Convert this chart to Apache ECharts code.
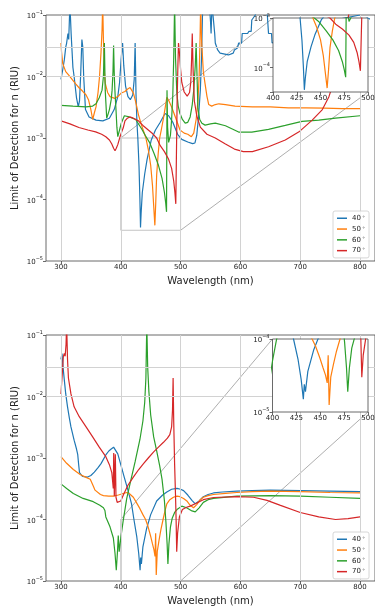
<!DOCTYPE html>
<html><head><meta charset="utf-8">
<script src="https://cdn.jsdelivr.net/npm/echarts@6/dist/echarts.min.js"></script>
<style>html,body{margin:0;padding:0;background:#fff}#c{width:375px;height:607px}</style>
</head><body><div id="c"></div>
<script>
// ---------- data (wavelength nm, limit of detection RIU) ----------
const seriesNames = ['40', '50', '60', '70'];
const xTicks = [300, 400, 500, 600, 700, 800];
const insetXTicks = [400, 425, 450, 475, 500];

const top40 = [[300,9.0e-3],[303,0.013],[305.6,0.0186],[308,0.03],[309.5,0.035],[311.7,0.05],[313,0.04],[315,0.15],[317,0.05],[320,0.014],[322,0.01],[326,0.0045],[329,0.0032],[331,0.004],[333,0.011],[335,0.04],[336.5,0.03],[338,0.01],[341,0.0029],[347,0.0022],[358.6,0.00195],[370,0.0019],[381,0.0021],[389,0.0029],[395,0.0047],[398,0.008],[400.5,0.0186],[403,0.035],[405,0.015],[408,0.007],[412,0.0047],[416,0.0042],[420,0.005],[422.5,0.009],[424,0.035],[425.5,0.005],[427,0.0018],[428.5,0.001],[430.5,0.00035],[432,0.0001],[433,3.5e-5],[434,6e-5],[436,1.3e-4],[440,2.6e-4],[444,4.5e-4],[451,9.3e-4],[458,1.35e-3],[466,1.8e-3],[474,2.5e-3],[480,2.3e-3],[487,1.8e-3],[495,1.15e-3],[502,9.5e-4],[512,8.6e-4],[520,8.1e-4],[524,8.3e-4],[527,1.1e-3],[530,2.2e-3],[533,6e-3],[535,0.02],[537,0.15],[548,0.15],[550,0.08],[551,0.05],[552.5,0.15],[555,0.15],[557,0.05],[558,0.035],[562,0.027],[566,0.024],[568,0.0224],[580,0.0224],[582,0.024],[588,0.024],[590,0.027],[595,0.029],[597,0.035],[602,0.035],[603,0.05],[612,0.05],[614,0.054],[618,0.054],[619,0.083],[625,0.1],[628,0.15],[643,0.15],[645,0.1],[647,0.05],[652,0.05],[653,0.035],[670,0.04],[700,0.06],[750,0.08],[800,0.1]];
const top50 = [[300,0.035],[301,0.025],[303,0.0162],[308,0.012],[313,0.0105],[319.6,0.0087],[325,0.0075],[330.6,0.0065],[336,0.0058],[342,0.005],[346,0.0042],[350,0.0029],[353,0.002],[356,0.0026],[358.6,0.0032],[362,0.0055],[364.5,0.01],[367,0.025],[368.7,0.0575],[369.8,0.15],[371,0.04],[372.5,0.012],[374,0.0078],[378,0.0055],[382,0.0047],[390,0.0044],[396,0.0048],[401,0.0054],[407,0.0057],[411,0.0062],[415.6,0.0066],[418,0.0063],[421,0.0054],[424,0.0042],[426.8,0.0032],[429.5,0.0024],[434,0.0017],[438,0.0013],[442,0.001],[446,6.5e-4],[450,3.6e-4],[453,1.7e-4],[455,8e-5],[457,3.8e-5],[458.5,9e-5],[460,2.5e-4],[462.5,5.5e-4],[465,1e-3],[468,1.4e-3],[471,2e-3],[474,3e-3],[477,4.6e-3],[480,4.1e-3],[485,3.2e-3],[492,2.1e-3],[499,1.35e-3],[506,1.2e-3],[512,1.15e-3],[518,1.05e-3],[522,1.2e-3],[526,2e-3],[529,4e-3],[531,0.01],[532.5,0.04],[533.5,0.15],[535,0.04],[538,0.012],[541,0.0075],[544,0.0048],[547,0.0035],[552,0.0033],[558,0.0035],[564,0.0036],[575,0.0035],[591,0.0033],[620,0.0032],[650,0.0032],[680,0.0031],[710,0.0031],[740,0.00305],[770,0.003],[800,0.003]];
const top60 = [[300,0.0034],[320,0.0033],[342,0.0032],[353,0.0033],[358.6,0.0036],[364,0.0045],[368.7,0.006],[371,0.01],[372.6,0.035],[374,0.006],[376.5,0.0021],[378.5,0.0024],[381,0.0029],[384,0.0042],[385.5,0.006],[387,0.012],[388,0.032],[389.2,0.01],[390.4,0.0054],[392,0.0029],[393.5,0.0015],[395,0.00105],[397.5,0.0013],[400.5,0.0017],[406,0.0023],[414,0.0022],[425,0.002],[435,0.0014],[441,0.0011],[448,8.5e-4],[456,5.5e-4],[463,3.6e-4],[469,2.2e-4],[473,1.3e-4],[475,9e-5],[476.5,6.3e-5],[477.3,6e-3],[478.3,1.5e-3],[480,8.5e-4],[483,1.1e-3],[485,2e-3],[487,5e-3],[488.5,0.02],[490,0.15],[491.5,0.02],[493.7,5.4e-3],[496,3.3e-3],[499,2.5e-3],[503,2e-3],[507.7,1.75e-3],[512,1.8e-3],[516,2.2e-3],[519.5,3.5e-3],[522,6e-3],[524.5,0.015],[526,0.035],[527.5,0.01],[529,3e-3],[532,2e-3],[535.6,1.74e-3],[541,1.62e-3],[550,1.7e-3],[558,1.74e-3],[575,1.58e-3],[597,1.25e-3],[619,1.25e-3],[647,1.38e-3],[675,1.6e-3],[703,1.86e-3],[731,1.95e-3],[759,2.1e-3],[800,2.3e-3]];
const top70 = [[300,0.0019],[315,0.0017],[330,0.00148],[345,0.00135],[358,0.00126],[368,0.00115],[375,0.00105],[381,0.00093],[385,0.0008],[388,0.00068],[390.4,0.00062],[392.5,0.00068],[395,0.00078],[398.8,0.00105],[402,0.0013],[404,0.00145],[407,0.0019],[411,0.0021],[415,0.0022],[421,0.0021],[429.5,0.0019],[437,0.0016],[446,0.00135],[453,0.00118],[460,0.001],[466,7.5e-4],[473,6e-4],[480,4.5e-4],[485,3.2e-4],[488.5,2e-4],[490.5,1.3e-4],[492,8.5e-5],[493,5e-4],[494.2,4e-3],[495.5,0.015],[496.5,0.035],[498,0.025],[500,0.013],[502,8e-3],[506,5.6e-3],[511,4.8e-3],[515,5.5e-3],[517,8e-3],[518.5,0.02],[519.5,0.05],[521,0.012],[523,4e-3],[527,2.3e-3],[533,1.5e-3],[544,1.15e-3],[558,1e-3],[575,8e-4],[590,6.6e-4],[605,6e-4],[620,6e-4],[647,7.2e-4],[675,9.3e-4],[698,1.26e-3],[720,1.95e-3],[737,2.9e-3],[748,4.7e-3],[759,0.01],[770,0.021],[776,0.045],[782,0.12],[790,0.25],[800,0.4]];

const bot40 = [[300,0.04],[301.7,0.05],[303.5,0.03],[305.6,0.0186],[308,0.011],[311,0.0068],[314,0.0045],[316.7,0.0032],[322,0.00195],[326,0.0014],[328,0.00115],[329.5,0.0008],[331,0.00058],[336,0.0005],[344.6,0.00049],[350,0.00052],[355.8,0.00059],[362,0.0007],[367,0.00081],[375,0.00112],[380,0.0013],[384,0.0014],[388,0.0015],[391,0.00142],[395,0.00117],[400.5,0.00075],[406,0.00048],[412,0.0003],[418,0.00018],[422,1e-4],[426.8,5.2e-5],[430,2.8e-5],[432.3,1.5e-5],[433.3,2.4e-5],[434.5,1.9e-5],[437,3.6e-5],[443,7e-5],[450,1.2e-4],[460,2e-4],[470,2.5e-4],[477,2.8e-4],[485,3.1e-4],[494,3.2e-4],[500,3.1e-4],[505,2.95e-4],[512,2.5e-4],[519,2.05e-4],[524.5,1.8e-4],[531,2e-4],[538,2.35e-4],[546,2.55e-4],[555,2.7e-4],[570,2.8e-4],[594,2.9e-4],[620,2.95e-4],[650,3e-4],[700,2.95e-4],[750,2.9e-4],[800,2.85e-4]];
const bot50 = [[300,1.05e-3],[309.5,8.2e-4],[320.7,6.5e-4],[332,5.4e-4],[343,4.8e-4],[349,4.5e-4],[352,4.2e-4],[354,3.5e-4],[357,3e-4],[360,2.8e-4],[366,2.55e-4],[371,2.45e-4],[380,2.4e-4],[387.6,2.4e-4],[396,2.5e-4],[404,2.65e-4],[410,2.75e-4],[415,2.6e-4],[421,2.3e-4],[426,1.9e-4],[432,1.5e-4],[437,1.2e-4],[441.5,1e-4],[445,8e-5],[449.6,5.5e-5],[453,4e-5],[455.5,3.2e-5],[457.3,2.5e-5],[458.3,6e-5],[459.3,1.25e-5],[461,3e-5],[463.8,4.5e-5],[467,6.8e-5],[470.7,1e-4],[474,1.4e-4],[477,1.8e-4],[482,2.1e-4],[488,2.3e-4],[494,2.4e-4],[499,2.35e-4],[505,2.2e-4],[510.5,2e-4],[516,1.7e-4],[521.6,1.55e-4],[527,1.75e-4],[532,2.05e-4],[538,2.3e-4],[546,2.45e-4],[555,2.55e-4],[575,2.65e-4],[594,2.75e-4],[620,2.85e-4],[650,2.9e-4],[700,2.85e-4],[750,2.75e-4],[800,2.7e-4]];
const bot60 = [[300,3.8e-4],[309.5,3.2e-4],[320.7,2.65e-4],[337,2.2e-4],[354,1.95e-4],[365,1.7e-4],[371,1.55e-4],[373.5,1.4e-4],[375,1.1e-4],[382,7.6e-5],[387.6,5e-5],[390.4,2.8e-5],[392.5,1.5e-5],[394.5,3e-5],[395.8,5.5e-5],[397.4,3e-5],[400,5e-5],[404,9.5e-5],[410,2.2e-4],[416,4e-4],[424,8.7e-4],[432,2e-3],[437,4e-3],[440,8e-3],[442,0.02],[443.5,0.15],[445,0.03],[447,0.012],[450,5e-3],[455,2.2e-3],[460,1.3e-3],[465,7.5e-4],[469,4.5e-4],[473,2e-4],[475.5,9e-5],[477.5,4e-5],[478.8,1.9e-5],[480.5,4e-5],[483,7.5e-5],[486,1.05e-4],[490,1.3e-4],[494,1.45e-4],[502,1.65e-4],[510,1.55e-4],[519,1.38e-4],[524.5,1.33e-4],[531,1.55e-4],[538,1.9e-4],[546,2.1e-4],[555,2.2e-4],[594,2.4e-4],[650,2.45e-4],[700,2.4e-4],[750,2.3e-4],[800,2.2e-4]];
const bot70 = [[300,0.011],[302,0.022],[304,0.045],[305.6,0.05],[307,0.045],[308.5,0.07],[309.5,0.15],[310.3,0.15],[311,0.04],[312.5,0.02],[316.7,0.011],[322,0.0068],[330.6,0.0047],[342,0.0032],[353,0.0022],[364,0.0015],[375,0.00105],[381,7.8e-4],[385,5.8e-4],[387.5,3.2e-4],[388.2,1.2e-3],[389.2,2.4e-4],[390.9,1.15e-3],[392,2.3e-4],[394,1.9e-4],[396,1.8e-4],[400,2e-4],[405,2.6e-4],[412,3.6e-4],[421,4.9e-4],[430,6.5e-4],[438,8.1e-4],[446,1e-3],[455,1.26e-3],[463,1.5e-3],[471.4,1.8e-3],[478,2.1e-3],[482,2.4e-3],[485,3.2e-3],[486.5,6e-3],[487.5,0.02],[488.5,4e-3],[490,8e-4],[491.5,2.5e-4],[492.5,1e-4],[493.5,3e-5],[495,6e-5],[498,1.1e-4],[503,1.45e-4],[510,1.58e-4],[516,1.65e-4],[527,1.85e-4],[538,2.1e-4],[555,2.28e-4],[594,2.35e-4],[622,2.3e-4],[644.5,2.05e-4],[667,1.7e-4],[700,1.3e-4],[731,1.1e-4],[759,1e-4],[780,1.03e-4],[800,1.1e-4]];

// ---------- styling ----------
const FF = 'DejaVu Sans';
const COLORS = ['#1f77b4', '#ff7f0e', '#2ca02c', '#d62728'];
const GRIDC = '#d2d2d2';
const AX = '#444';
const TXT = '#222';

const chart = echarts.init(document.getElementById('c'), null, {renderer: 'canvas'});

function expLabel(v) {
  const e = Math.log10(v);
  const r = Math.round(e);
  if (Math.abs(e - r) > 0.02) return '';
  return '{b|10}{s|\u2212' + (-r) + '}';
}
const rich = {
  b: {fontSize: 7, color: TXT, fontFamily: FF, lineHeight: 10, verticalAlign: 'bottom'},
  s: {fontSize: 5, color: TXT, fontFamily: FF, lineHeight: 10, verticalAlign: 'top'}
};
const p10 = e => Math.pow(10, e);

const grids = [
  {left: 46, top: 15, width: 329, height: 246, show: true, borderColor: AX, borderWidth: 0.8, backgroundColor: 'transparent', outerBoundsMode: 'none'},
  {left: 273, top: 18, width: 95, height: 74, show: true, borderColor: AX, borderWidth: 0.8, backgroundColor: '#fff', zlevel: 1, outerBoundsMode: 'none'},
  {left: 46, top: 335, width: 329, height: 246, show: true, borderColor: AX, borderWidth: 0.8, backgroundColor: 'transparent', outerBoundsMode: 'none'},
  {left: 272.5, top: 339, width: 95.5, height: 73, show: true, borderColor: AX, borderWidth: 0.8, backgroundColor: '#fff', zlevel: 1, outerBoundsMode: 'none'}
];

function mainX(gi) {
  return {type: 'value', gridIndex: gi, min: 275, max: 825,
    name: 'Wavelength (nm)', nameLocation: 'middle', nameGap: 15, nameMoveOverlap: false,
    nameTextStyle: {fontSize: 10, color: TXT, fontFamily: FF},
    axisLine: {show: false},
    axisTick: {show: true, customValues: xTicks, length: 3, lineStyle: {color: AX, width: 0.8}},
    axisLabel: {customValues: xTicks, fontSize: 7, color: TXT, margin: 3, fontFamily: FF},
    splitLine: {show: false}};
}
function insetX(gi) {
  return {type: 'value', gridIndex: gi, min: 400, max: 500, interval: 25, zlevel: 1,
    axisLine: {show: false},
    axisTick: {show: true, length: 3, lineStyle: {color: AX, width: 0.8}},
    axisLabel: {fontSize: 7, color: TXT, margin: 3, fontFamily: FF},
    splitLine: {show: false}};
}
function logY(gi, min, max, named, zl) {
  const o = {type: 'log', logBase: 10, gridIndex: gi, min: min, max: max, zlevel: zl,
    axisLine: {show: false},
    axisTick: {show: true, length: 3, lineStyle: {color: AX, width: 0.8}},
    axisLabel: {formatter: expLabel, rich: rich, margin: 3},
    splitLine: {show: false}, minorTick: {show: false}};
  if (named) {
    o.name = 'Limit of Detection for n (RIU)';
    o.nameLocation = 'middle';
    o.nameGap = 26;
    o.nameMoveOverlap = false;
    o.nameTextStyle = {fontSize: 10, color: TXT, fontFamily: FF};
  }
  return o;
}

function gridLines(idx, xs, ys, zl) {
  return {type: 'line', xAxisIndex: idx, yAxisIndex: idx, data: [], zlevel: zl, z: 1, silent: true,
    markLine: {silent: true, symbol: ['none', 'none'], animation: false, label: {show: false},
      lineStyle: {color: GRIDC, width: 1, type: 'solid', opacity: 1}, emphasis: {disabled: true},
      data: xs.map(v => ({xAxis: v})).concat(ys.map(v => ({yAxis: v})))}};
}

const mainYGrid = [-1.5, -2, -2.5, -3, -3.5, -4, -4.5].map(p10);
const topInsetYGrid = [-3.5, -4].map(p10);
const botInsetYGrid = [-4.25, -4.5, -4.75].map(p10);

const topSets = [top40, top50, top60, top70];
const botSets = [bot40, bot50, bot60, bot70];

const series = [
  gridLines(0, xTicks, mainYGrid, 0),
  gridLines(1, [425, 450, 475], topInsetYGrid, 1),
  gridLines(2, xTicks, mainYGrid, 0),
  gridLines(3, [425, 450, 475], botInsetYGrid, 1)
];
function addSeries(sets, mainIdx, insetIdx) {
  sets.forEach((d, i) => {
    const base = {type: 'line', name: seriesNames[i], data: d, showSymbol: false, symbol: 'none',
      lineStyle: {width: 1.2, color: COLORS[i]}, itemStyle: {color: COLORS[i]}, clip: true,
      animation: false, silent: true};
    series.push(Object.assign({}, base, {xAxisIndex: mainIdx, yAxisIndex: mainIdx, z: 3, zlevel: 0}));
    series.push(Object.assign({}, base, {xAxisIndex: insetIdx, yAxisIndex: insetIdx, z: 3, zlevel: 1}));
  });
}
addSeries(topSets, 0, 1);
addSeries(botSets, 2, 3);

function legendAt(top) {
  return {data: seriesNames, orient: 'vertical', left: 333, top: top, icon: 'rect',
    itemWidth: 10, itemHeight: 1.5, itemGap: 2.3, padding: [3, 4, 3, 4],
    backgroundColor: 'rgba(255,255,255,0.8)', borderColor: '#cccccc', borderWidth: 0.8, borderRadius: 2,
    selectedMode: false, z: 10,
    formatter: n => n + '{s|\u2218}',
    textStyle: {fontSize: 7, color: TXT, fontFamily: FF, lineHeight: 8.5,
      rich: {s: {fontSize: 5, color: TXT, fontFamily: FF, verticalAlign: 'top', lineHeight: 8.5, padding: [0, 0, 0, 1]}}}};
}

const option = {
  animation: false,
  textStyle: {fontFamily: FF},
  grid: grids,
  xAxis: [mainX(0), insetX(1), mainX(2), insetX(3)],
  yAxis: [logY(0, 1e-5, 0.1, true, 0), logY(1, p10(-4.5), 1e-3, false, 1),
          logY(2, 1e-5, 0.1, true, 0), logY(3, 1e-5, 1e-4, false, 1)],
  legend: [legendAt(211), legendAt(532)],
  series: series
};
chart.setOption(option);

// inset markers (zoom rectangle + connectors), positioned through the axes
function P(gi, pt) { return chart.convertToPixel({gridIndex: gi}, pt); }
const LC = '#999999';
function marker(mainGi, insetGi, yTop, yBot) {
  const a = P(mainGi, [400, yTop]), b = P(mainGi, [500, yBot]);
  const ia = P(insetGi, [400, yTop]), ib = P(insetGi, [500, yBot]);
  return [
    {type: 'rect', silent: true, z: 2, shape: {x: a[0], y: a[1], width: b[0] - a[0], height: b[1] - a[1]},
      style: {fill: null, stroke: '#b5b5b5', lineWidth: 0.8}},
    {type: 'line', silent: true, z: 2, shape: {x1: a[0], y1: a[1], x2: ia[0], y2: ia[1]}, style: {stroke: LC, lineWidth: 0.8}},
    {type: 'line', silent: true, z: 2, shape: {x1: b[0], y1: b[1], x2: ib[0], y2: ib[1]}, style: {stroke: LC, lineWidth: 0.8}}
  ];
}
chart.setOption({graphic: {elements: marker(0, 1, 1e-3, p10(-4.5)).concat(marker(2, 3, 1e-4, 1e-5))}});
</script>
</body></html>
